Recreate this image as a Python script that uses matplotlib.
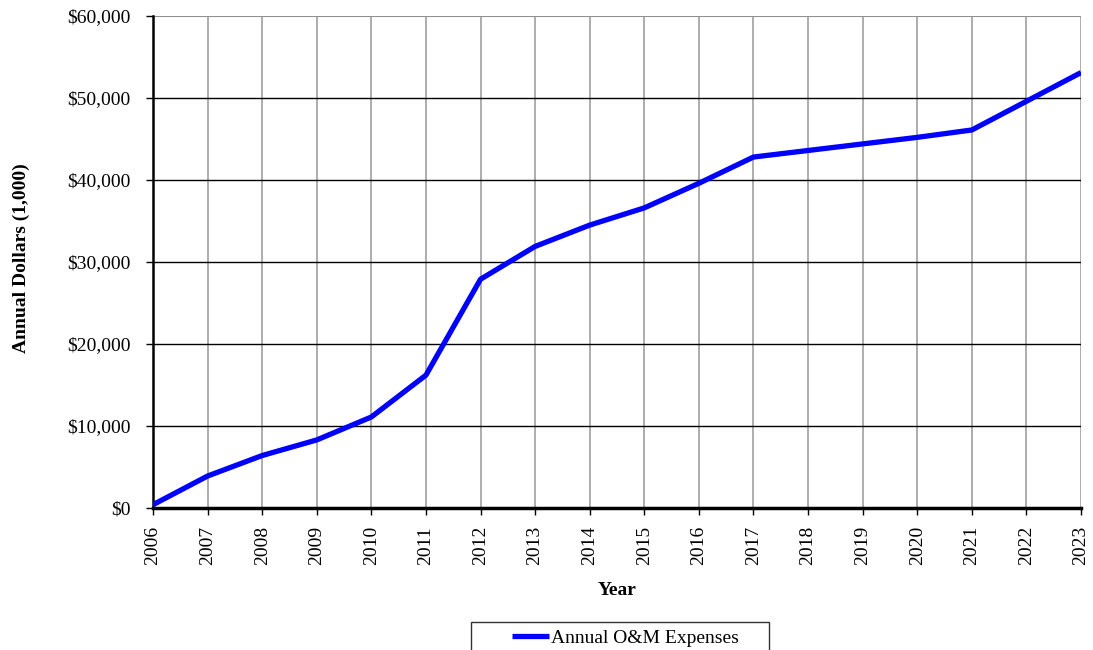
import matplotlib
matplotlib.use("Agg")
import matplotlib.pyplot as plt
from matplotlib.patches import Rectangle
from matplotlib.ticker import FuncFormatter

# Data
years = [2006, 2007, 2008, 2009, 2010, 2011, 2012, 2013, 2014, 2015,
         2016, 2017, 2018, 2019, 2020, 2021, 2022, 2023]
expenses = [400, 3900, 6400, 8300, 11100, 16200, 27900, 31900, 34500, 36600,
            39600, 42800, 43600, 44400, 45200, 46100, 49600, 53100]

plt.rcParams['font.family'] = ['Liberation Serif', 'DejaVu Serif']

W, H = 1093, 650
fig = plt.figure(figsize=(W / 100, H / 100), dpi=100)
ax = fig.add_axes([153 / W, 1 - 508 / H, (1081 - 153) / W, (508 - 16) / H])

line, = ax.plot(years, expenses, color='#0000ff', linewidth=3.8,
                label='Annual O&M Expenses', solid_capstyle='butt', zorder=3)

ax.set_xlim(2006, 2023)
ax.set_ylim(0, 60000)
ax.set_xticks(years)
ax.set_xticklabels([str(y) for y in years], rotation=90, fontsize=14)
ax.set_yticks(range(0, 60001, 10000))
ax.yaxis.set_major_formatter(FuncFormatter(lambda v, p: f"${v:,.0f}"))
ax.tick_params(axis='y', labelsize=14, length=5, width=1, direction='out', pad=11)
ax.tick_params(axis='x', length=5, width=1, direction='out', pad=8)

# grid: gray verticals, black horizontals, gray top edge
for y in years:
    ax.axvline(y, color='#a0a0a0', linewidth=1.2, zorder=1)
for v in range(10000, 50001, 10000):
    ax.axhline(v, color='black', linewidth=1, zorder=2)
ax.axhline(60000, color='#909090', linewidth=1.5, zorder=2)

ax.spines['top'].set_visible(False)
ax.spines['right'].set_visible(False)
ax.spines['left'].set_linewidth(1.8)
ax.spines['bottom'].set_linewidth(2.5)
ax.spines['bottom'].set_zorder(4)

ax.set_xlabel('Year', fontsize=14, fontweight='bold')
ax.xaxis.set_label_coords(0.5, (508 - 582) / 492)
ax.set_ylabel('Annual Dollars (1,000)', fontsize=14, fontweight='bold')
ax.yaxis.set_label_coords((30 - 153) / 928, (508 - 258) / 492)

# legend box (cut off at bottom, as in the reference)
fig.patches.append(Rectangle((471 / W, 1 - 662 / H), (769 - 471) / W, 40 / H,
                             transform=fig.transFigure, facecolor='white',
                             edgecolor='#333333', linewidth=1))
leg = fig.legend(handles=[line], loc='center left',
                 bbox_to_anchor=(512 / W, 1 - 638 / H),
                 fontsize=14, frameon=False, handlelength=1.9,
                 handletextpad=0.1, borderpad=0, borderaxespad=0)

fig.savefig('out.png', dpi=100)
